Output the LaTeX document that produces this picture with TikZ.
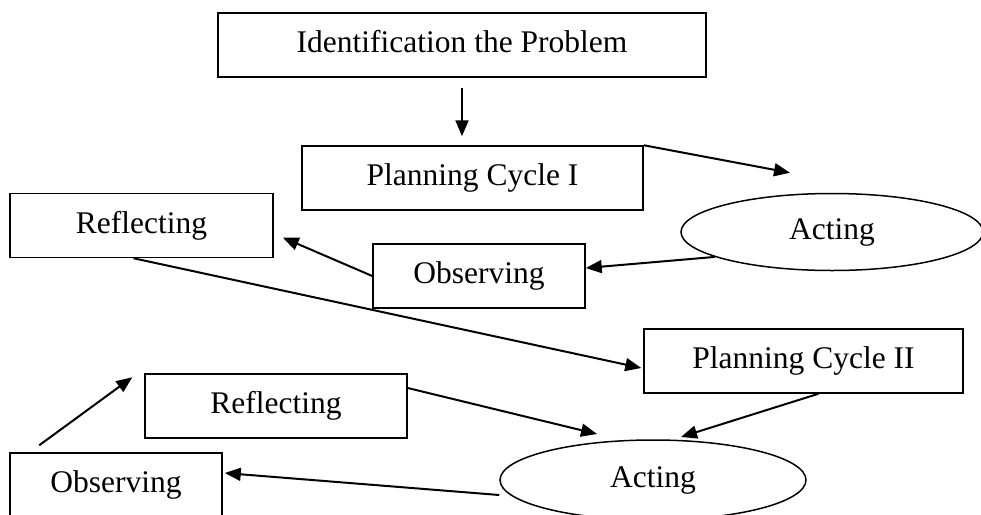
\documentclass[tikz,border=0pt]{standalone}
\usepackage{fontspec}
\setmainfont{Liberation Serif}
\usetikzlibrary{shapes,arrows.meta,positioning}
\def \lw {1.5pt}

\begin{document}
\begin{tikzpicture}[x=1pt,y=-1pt,
    every node/.style={font=\fontsize{31.5}{36}\selectfont, text height=22pt, text depth=7pt, line width=\lw},
    box/.style={draw,rectangle,minimum height=64},
    act/.style={draw,ellipse,minimum height=77,minimum width=302,inner sep=0pt},
    >={Triangle[length=16pt,width=13pt]}]
    \useasboundingbox (0,0) rectangle (981,514);
    \clip (0,0) rectangle (981,514);
    \node[box,minimum width=488] (I) at (462,45) {Identification the Problem};
    \node[box,minimum width=341] (P1) at (472.5,178) {Planning Cycle I};
    \node[act] (A1) at (832,232) {Acting};
    \node[box,minimum width=212] (O1) at (479,276) {Observing};
    \node[box,minimum width=263] (R1) at (141.5,225.5) {Reflecting};
    \node[box,minimum width=319] (P2) at (803.5,361) {Planning Cycle II};
    \node[box,minimum width=262] (R2) at (276,406) {Reflecting};
    \node[act,minimum width=306,minimum height=80] (A2) at (653,480) {Acting};
    \node[box,minimum width=212] (O2) at (116,485) {Observing};
    \path[->,line width=2pt] ([yshift=-10]I.south) edge ([yshift=9]P1.north -| I.south);
    \path[->,line width=2pt] (P1.north east) edge ([xshift=-42,yshift=20]A1.north);
    \path[->,line width=2pt] (A1.192) edge ([yshift=8]O1.east);
    \path[->,line width=2pt] (O1.west) edge ([xshift=9,yshift=-12]R1.east);
    \path[->,line width=2pt] ([xshift=-8]R1.south) edge ([xshift=-2,yshift=-7]P2.west);
    \path[->,line width=2pt] ([xshift=15]P2.south) edge ([yshift=3]A2.55);
    \path[->,line width=2pt] ([yshift=18]R2.east) edge ([xshift=-56,yshift=46]A2.center);
    \path[->,line width=2pt] ([yshift=-15]A2.west) edge ([xshift=2,yshift=12]O2.east);
    \path[->,line width=2pt] ([xshift=30,yshift=7]O2.north west) edge ([xshift=-12,yshift=-4]R2.north west);
\end{tikzpicture}
\end{document}
